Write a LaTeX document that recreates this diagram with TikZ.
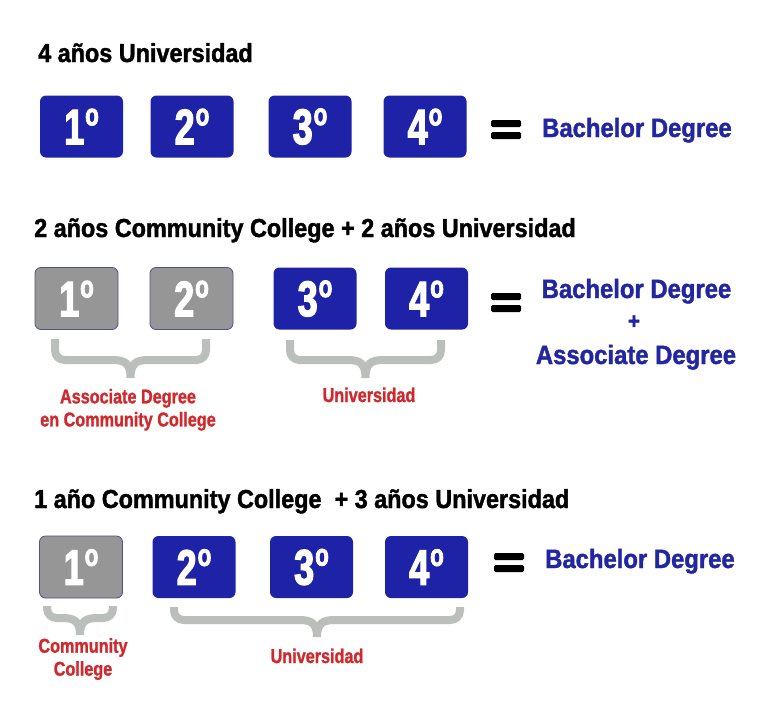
\documentclass[tikz,border=0pt]{standalone}
\usepackage{fontspec}
\setmainfont{Liberation Sans}
\newfontfamily\headfont{Liberation Sans}[FakeStretch=0.9, FakeBold=1.5]
\newfontfamily\numfont{Liberation Sans}[FakeStretch=0.72, FakeBold=2.5]
\newfontfamily\redfont{Liberation Sans}[FakeStretch=0.81, FakeBold=1.2]

\definecolor{boxblue}{RGB}{30,34,166}
\definecolor{degblue}{RGB}{34,38,160}
\definecolor{boxgray}{RGB}{150,150,150}
\definecolor{grayedge}{RGB}{80,80,140}
\definecolor{bracegray}{RGB}{186,191,187}
\definecolor{labelred}{RGB}{208,40,44}

\tikzset{
    % les cases des années
    yearbox/.style={
        rounded corners=6pt,
        minimum width=83pt,
        minimum height=62pt,
        inner sep=0pt,
        text=white,
        font=\numfont\bfseries\fontsize{50}{50}\selectfont
    },
    bluebox/.style={yearbox, fill=boxblue},
    graybox/.style={yearbox, fill=boxgray, draw=grayedge, line width=0.8pt},
    % les titres de chaque ligne
    rowtitle/.style={
        anchor=base west,
        inner sep=0pt,
        font=\headfont\bfseries\fontsize{26}{26}\selectfont
    },
    degree/.style={
        inner sep=0pt,
        text=degblue,
        font=\headfont\bfseries\fontsize{26.5}{26.5}\selectfont
    },
    sublabel/.style={
        inner sep=0pt,
        text=labelred,
        align=center,
        font=\redfont\bfseries\fontsize{20}{23}\selectfont
    },
    bracestyle/.style={draw=bracegray, line width=8pt},
    eqbar/.style={fill=black, rounded corners=1.5pt}
}

% le numéro d'année avec son petit o
\newcommand\yr[1]{#1\hspace{1pt}\raisebox{19pt}{\fontsize{31}{31}\selectfont o}}
% le signe égal
\newcommand\equalsign[2]{%
    \fill[eqbar] (#1,#2) rectangle ++(30,7);
    \fill[eqbar] (#1,#2+12) rectangle ++(30,7);
}
% l'accolade : x gauche, x droite, haut, ligne, pointe
\newcommand\curlybrace[5]{%
    \pgfmathsetmacro\bmid{(#1+#2)/2}
    \draw[bracestyle]
        (#1,#3) -- (#1,#4-10) .. controls (#1,#4-4) and (#1+4,#4) .. (#1+10,#4)
        -- (\bmid-18,#4) .. controls (\bmid-6,#4) and (\bmid,#4+3) .. (\bmid,#5)
        (#2,#3) -- (#2,#4-10) .. controls (#2,#4-4) and (#2-4,#4) .. (#2-10,#4)
        -- (\bmid+18,#4) .. controls (\bmid+6,#4) and (\bmid,#4+3) .. (\bmid,#5);
}

\begin{document}
\begin{tikzpicture}[x=1pt, y=-1pt]
    \useasboundingbox[fill=white] (0,0) rectangle (768,720);

    % --- 1. Quatre ans à l'université ---
    \node[rowtitle] (titlefour) at (38,62) {4 años Universidad};
    \node[bluebox] (fourA) at (81.5,126.5) {\yr{1}};
    \node[bluebox] (fourB) at (192,126.5) {\yr{2}};
    \node[bluebox] (fourC) at (310,126.5) {\yr{3}};
    \node[bluebox] (fourD) at (425,126.5) {\yr{4}};
    \equalsign{491}{120}
    \node[degree, anchor=base west] (bachfour) at (542,137) {Bachelor Degree};

    % --- 2. Deux ans de college + deux ans d'université ---
    \node[rowtitle] (titletwo) at (34,237) {2 años Community College + 2 años Universidad};
    \node[graybox] (twoA) at (76.5,298.5) {\yr{1}};
    \node[graybox] (twoB) at (191.5,298.5) {\yr{2}};
    \node[bluebox] (twoC) at (315,298.5) {\yr{3}};
    \node[bluebox] (twoD) at (426.5,298.5) {\yr{4}};
    \equalsign{491}{293}
    \node[degree, anchor=base] (bachtwo) at (636.5,298) {Bachelor Degree};
    \node[degree, font=\headfont\bfseries\fontsize{23}{23}\selectfont] (plustwo) at (634,322) {+};
    \node[degree, anchor=base] (assoctwo) at (636,364) {Associate Degree};

    \curlybrace{55}{206}{339}{360}{378}
    \curlybrace{290}{441}{340}{360}{378}
    \node[sublabel, anchor=north] (cctwo) at (128,388.7) {Associate Degree\\en Community College};
    \node[sublabel, anchor=base] (unitwo) at (369,402) {Universidad};

    % --- 3. Un an de college + trois ans d'université ---
    \node[rowtitle] (titleone) at (34,508) {1 año Community College~~+ 3 años Universidad};
    \node[graybox] (oneA) at (81,567) {\yr{1}};
    \node[bluebox] (oneB) at (194,567) {\yr{2}};
    \node[bluebox] (oneC) at (311.5,567) {\yr{3}};
    \node[bluebox] (oneD) at (426.5,567) {\yr{4}};
    \equalsign{494}{553}
    \node[degree, anchor=base west] (bachone) at (545,568) {Bachelor Degree};

    \curlybrace{47}{113}{606}{618}{635}
    \curlybrace{174}{460}{607}{620}{637}
    \node[sublabel, anchor=north] (ccone) at (83,638) {Community\\College};
    \node[sublabel, anchor=base] (unione) at (317,663) {Universidad};

\end{tikzpicture}
\end{document}
